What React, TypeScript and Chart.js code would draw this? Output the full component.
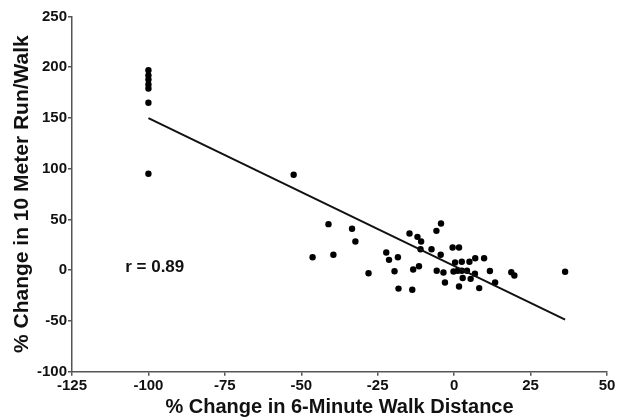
import React, { useEffect, useRef } from "react";
import { Chart, registerables } from "chart.js";

Chart.register(...registerables);

// ---- data ----
const xValues = [
  -100, -100, -100, -100, -100, -100, -100,
  -52.5, -46.3, -41.1, -39.5, -33.4, -32.3, -28.0, -22.2, -21.3, -18.4, -19.5, -18.2,
  -13.7, -13.4, -11.5, -14.6, -12.0, -10.8, -11.0, -7.4, -4.3, -5.8, -4.4, -5.7,
  -3.5, -3.0, -0.5, 1.6, 0.3, 2.5, 5.0, 6.9, 9.8, -0.2, 1.2, 2.5, 4.2, 2.8, 5.4,
  6.8, 11.7, 13.4, 18.7, 19.7, 1.6, 8.2, 36.3,
];
const yValues = [
  197, 192, 188, 183, 179, 165, 95,
  94, 12.8, 45.4, 15.2, 40.8, 28.3, -3.0, 17.4, 10.2, 12.8, -1.0, -18.1,
  -19.3, 0.7, 3.9, 36.2, 32.9, 28.3, 20.7, 20.7, 46.0, 38.8, 15.2, -0.6,
  -2.3, -12.1, 22.4, 22.4, 7.6, 8.3, 8.3, 11.8, 11.8, -1.3, -0.6, -0.6, -0.6, -7.7, -8.5,
  -3.5, -0.8, -12.1, -2.0, -5.2, -16.1, -17.6, -1.5,
];
const xTicks = [-125, -100, -75, -50, -25, 0, 25, 50];
const yTicks = [-100, -50, 0, 50, 100, 150, 200, 250];
const regressionSlope = -1.457;
const regressionIntercept = 4.2;
const annotationText = "r = 0.89";
const annotationPos = [-107.6, 3];
const xTitle = "% Change in 6-Minute Walk Distance";
const yTitle = "% Change in 10 Meter Run/Walk";

const FONT = "'Liberation Sans', Arial, Helvetica, sans-serif";
const AXIS_COLOR = "#555555";

export default function App() {
  const canvasRef = useRef<HTMLCanvasElement | null>(null);

  useEffect(() => {
    const canvas = canvasRef.current;
    if (!canvas) return;

    const points = xValues.map((x, i) => ({ x, y: yValues[i] }));
    const xMin = Math.min(...xValues);
    const xMax = Math.max(...xValues);
    const linePoints = [xMin, xMax].map((x) => ({
      x,
      y: regressionIntercept + regressionSlope * x,
    }));

    const annotationPlugin = {
      id: "rAnnotation",
      afterDatasetsDraw(chart: any) {
        const { ctx, scales } = chart;
        const px = scales.x.getPixelForValue(annotationPos[0]);
        const py = scales.y.getPixelForValue(annotationPos[1]);
        ctx.save();
        ctx.font = `bold 17px ${FONT}`;
        ctx.fillStyle = "#111111";
        ctx.textAlign = "left";
        ctx.textBaseline = "middle";
        ctx.fillText(annotationText, px, py);
        ctx.restore();
      },
    };

    const chart = new Chart(canvas, {
      type: "scatter",
      data: {
        datasets: [
          {
            type: "line" as any,
            data: linePoints,
            borderColor: "#111111",
            borderWidth: 2,
            pointRadius: 0,
            fill: false,
            showLine: true,
          } as any,
          {
            data: points,
            backgroundColor: "#000000",
            borderColor: "#000000",
            borderWidth: 0,
            pointRadius: 3.2,
          },
        ],
      },
      options: {
        animation: false,
        responsive: false,
        devicePixelRatio: 1,
        layout: { padding: { left: 0, right: 18, top: 16.5, bottom: 0 } },
        plugins: {
          legend: { display: false },
          tooltip: { enabled: false },
        },
        scales: {
          x: {
            type: "linear",
            min: -125,
            max: 50,
            afterBuildTicks: (s: any) => {
              s.ticks = xTicks.map((value) => ({ value }));
            },
            afterFit: (s: any) => {
              s.height = 48.3;
            },
            grid: {
              display: true,
              drawOnChartArea: false,
              drawTicks: true,
              tickLength: 4,
              color: AXIS_COLOR,
              lineWidth: 1.5,
            },
            border: { display: true, color: AXIS_COLOR, width: 1.5 },
            ticks: {
              padding: 1,
              color: "#111111",
              font: { family: FONT, size: 15, weight: "bold" },
              maxRotation: 0,
              autoSkip: false,
            },
            title: {
              display: true,
              text: xTitle,
              color: "#111111",
              font: { family: FONT, size: 20, weight: "bold" },
              padding: { top: 0, bottom: 0.5 },
            },
          },
          y: {
            type: "linear",
            min: -100,
            max: 250,
            afterBuildTicks: (s: any) => {
              s.ticks = yTicks.map((value) => ({ value }));
            },
            afterFit: (s: any) => {
              s.width = 72;
            },
            grid: {
              display: true,
              drawOnChartArea: false,
              drawTicks: true,
              tickLength: 4,
              color: AXIS_COLOR,
              lineWidth: 1.5,
            },
            border: { display: true, color: AXIS_COLOR, width: 1.5 },
            ticks: {
              padding: 1,
              color: "#111111",
              font: { family: FONT, size: 15, weight: "bold" },
              autoSkip: false,
            },
            title: {
              display: true,
              text: yTitle,
              color: "#111111",
              font: { family: FONT, size: 21, weight: "bold" },
              padding: { top: 10, bottom: 0 },
            },
          },
        },
      },
      plugins: [annotationPlugin],
    } as any);

    return () => {
      chart.destroy();
    };
  }, []);

  return (
    <div
      style={{
        position: "fixed",
        left: 0,
        top: 0,
        width: 625,
        height: 420,
        background: "#ffffff",
      }}
    >
      <canvas
        ref={canvasRef}
        width={625}
        height={420}
        style={{ width: 625, height: 420, display: "block" }}
      />
    </div>
  );
}
